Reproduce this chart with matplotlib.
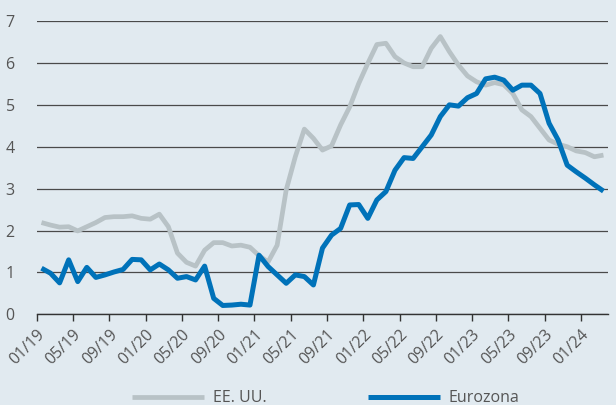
import matplotlib
matplotlib.use("Agg")
import matplotlib.pyplot as plt

# Monthly data 01/19 .. 03/24
months = ["%02d/%02d" % (m, y) for y in range(19, 25) for m in range(1, 13)][:63]

eeuu = [2.19, 2.13, 2.08, 2.09, 1.99, 2.09, 2.19, 2.31, 2.33, 2.33,
        2.35, 2.29, 2.27, 2.39, 2.09, 1.46, 1.24, 1.15, 1.53, 1.71,
        1.71, 1.63, 1.65, 1.60, 1.40, 1.25, 1.65, 2.97, 3.76, 4.42,
        4.20, 3.92, 4.02, 4.52, 4.95, 5.51, 5.99, 6.44, 6.47, 6.15,
        6.00, 5.91, 5.91, 6.35, 6.63, 6.27, 5.95, 5.69, 5.55, 5.47,
        5.53, 5.48, 5.27, 4.88, 4.72, 4.44, 4.16, 4.06, 4.00, 3.90,
        3.86, 3.76, 3.80]

eurozona = [1.10, 0.98, 0.75, 1.30, 0.78, 1.12, 0.88, 0.94, 1.01, 1.07,
            1.31, 1.30, 1.06, 1.20, 1.06, 0.86, 0.90, 0.82, 1.15, 0.38,
            0.21, 0.22, 0.24, 0.22, 1.41, 1.14, 0.94, 0.74, 0.94, 0.90,
            0.70, 1.58, 1.89, 2.05, 2.61, 2.62, 2.29, 2.73, 2.93, 3.44,
            3.74, 3.72, 4.00, 4.28, 4.72, 5.00, 4.97, 5.17, 5.27, 5.62,
            5.66, 5.59, 5.35, 5.47, 5.47, 5.27, 4.56, 4.16, 3.56, 3.40,
            3.25, 3.09, 2.94]

series_names = ["EE. UU.", "Eurozona"]
yticks = [0, 1, 2, 3, 4, 5, 6, 7]

BG = "#e1eaf0"
GREY = "#b8c2c6"
BLUE = "#0072b9"
TEXT = "#555555"

plt.rcParams['font.family'] = ['Open Sans', 'DejaVu Sans']

fig = plt.figure(figsize=(6.16, 4.05), dpi=100, facecolor=BG)
ax = fig.add_axes([0.060, 0.224, 0.927, 0.724], facecolor=BG)

x = list(range(len(months)))
ax.plot(x, eeuu, color=GREY, lw=3.4, solid_joinstyle='round', solid_capstyle='butt',
        label=series_names[0], zorder=3)
ax.plot(x, eurozona, color=BLUE, lw=3.6, solid_joinstyle='round', solid_capstyle='butt',
        label=series_names[1], zorder=4)

ax.set_xlim(-0.5, len(months) - 0.5)
ax.set_ylim(0, 7)

# horizontal grid
ax.set_yticks(yticks)
ax.set_yticklabels([str(t) for t in yticks])
ax.yaxis.grid(True, color="#4a4a4a", lw=0.9)
ax.set_axisbelow(True)
ax.tick_params(axis='y', length=0, pad=16, labelsize=11.5, labelcolor=TEXT)

# category ticks every 4 months, placed between categories
tick_idx = list(range(0, len(months), 4))
ax.set_xticks([i - 0.5 for i in tick_idx])
ax.set_xticklabels([months[i] for i in tick_idx], rotation=45, ha='right',
                   rotation_mode='anchor')
ax.tick_params(axis='x', direction='out', length=5, width=1, color="#333333",
               labelsize=11.5, labelcolor=TEXT, pad=4)

for side in ['top', 'right', 'left']:
    ax.spines[side].set_visible(False)
ax.spines['bottom'].set_color("#333333")
ax.spines['bottom'].set_linewidth(1)

fig.legend(loc='center', bbox_to_anchor=(0.529, 0.017), ncol=2, frameon=False,
           handlelength=4.5, handletextpad=0.55, columnspacing=6.35,
           fontsize=11.5, labelcolor=TEXT)

fig.savefig("out.png", dpi=100, facecolor=BG)
